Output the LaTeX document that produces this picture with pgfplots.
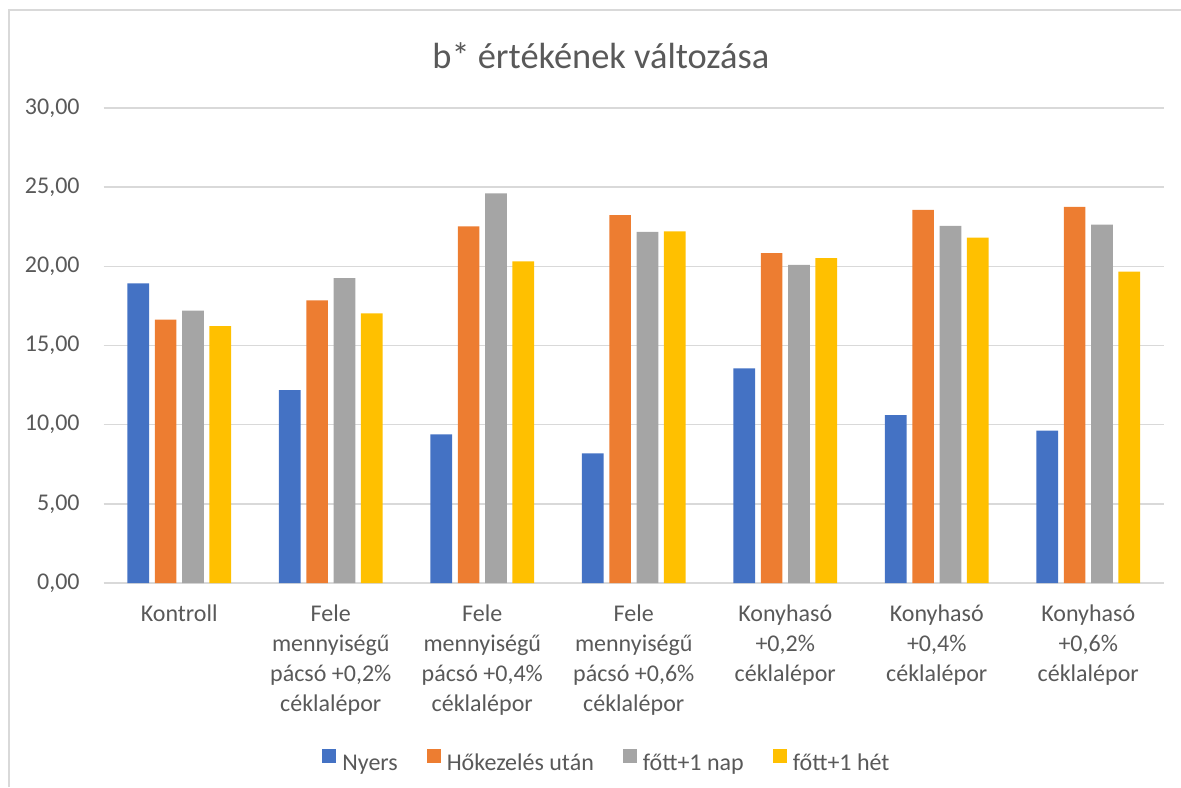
\documentclass[border=0pt]{standalone}
\usepackage{pgfplots}
\pgfplotsset{compat=1.18}
\usepackage{fontspec}
\setmainfont{Carlito}

\definecolor{cblue}{HTML}{4472C4}
\definecolor{corange}{HTML}{ED7D31}
\definecolor{cgray}{HTML}{A5A5A5}
\definecolor{cyellow}{HTML}{FFC000}
\definecolor{txt}{HTML}{595959}
\definecolor{gridc}{HTML}{D9D9D9}

% 1 px of the reference = 0.5pt
\begin{document}
\begin{tikzpicture}
\useasboundingbox (0,0) rectangle (590.5pt,393.5pt);
\draw[gridc, line width=1pt] (4.5pt,0) -- (4.5pt,388.5pt) -- (592pt,388.5pt);
\node[anchor=base, text=txt, font=\fontsize{18.2}{22}\selectfont] at (300.4pt,359.4pt) {b* értékének változása};
\begin{axis}[
  at={(51.75pt,102pt)}, anchor=south west,
  scale only axis, width=530.25pt, height=237.5pt,
  ybar=2.8pt, bar width=10.85pt,
  xmin=-0.5, xmax=6.5, ymin=0, ymax=30,
  xtick={0,...,6},
  xticklabels={Kontroll,
    {Fele\\mennyiségű\\pácsó +0,2\%\\céklalépor},
    {Fele\\mennyiségű\\pácsó +0,4\%\\céklalépor},
    {Fele\\mennyiségű\\pácsó +0,6\%\\céklalépor},
    {Konyhasó\\+0,2\%\\céklalépor},
    {Konyhasó\\+0,4\%\\céklalépor},
    {Konyhasó\\+0,6\%\\céklalépor}},
  ytick={0,5,...,30},
  major tick length=0pt,
  axis lines=left, axis line style={draw=none,-},
  ymajorgrids, grid style={gridc, line width=0.75pt},
  tick label style={text=txt, font=\fontsize{12}{15}\selectfont},
  xticklabel style={align=center, inner sep=0pt, anchor=north, yshift=-10.5pt},
  yticklabel style={inner sep=0pt, anchor=east, xshift=-11.75pt,
    /pgf/number format/.cd, fixed, fixed zerofill, precision=2, use comma, assume math mode=true},
  legend columns=-1,
  legend style={at={(0.4738,-0.376)}, anchor=center, draw=none,
    font=\fontsize{12}{15}\selectfont, text=txt,
    nodes={inner sep=0pt},
    /tikz/every odd column/.append style={column sep=3pt},
    /tikz/every even column/.append style={column sep=14.5pt}},
  legend image code/.code={\fill[#1] (0pt,0.2pt) rectangle (7pt,7.2pt);},
]
\addplot[fill=cblue, draw=none] coordinates {(0,18.93) (1,12.18) (2,9.38) (3,8.18) (4,13.55) (5,10.60) (6,9.63)};
\addplot[fill=corange, draw=none] coordinates {(0,16.63) (1,17.85) (2,22.53) (3,23.24) (4,20.84) (5,23.56) (6,23.75)};
\addplot[fill=cgray, draw=none] coordinates {(0,17.20) (1,19.26) (2,24.61) (3,22.17) (4,20.10) (5,22.55) (6,22.63)};
\addplot[fill=cyellow, draw=none] coordinates {(0,16.23) (1,17.03) (2,20.32) (3,22.21) (4,20.52) (5,21.81) (6,19.66)};
\legend{Nyers, Hőkezelés után, főtt+1 nap, főtt+1 hét}
\end{axis}
\end{tikzpicture}
\end{document}
